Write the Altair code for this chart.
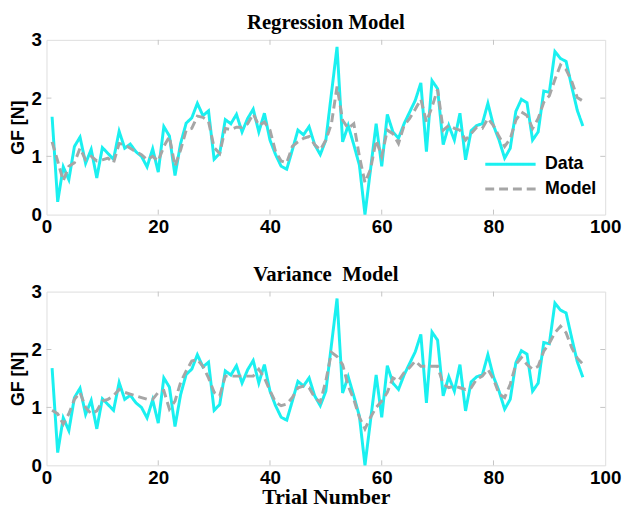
import altair as alt
import pandas as pd

# ---------------- data ----------------
trials = list(range(1, 97))

data_gf = [
    1.68, 0.22, 0.82, 0.60, 1.17, 1.33, 0.88, 1.12, 0.63, 1.15,
    1.05, 0.95, 1.43, 1.14, 1.21, 1.08, 1.00, 0.82, 1.13, 0.73,
    1.51, 1.35, 0.67, 1.22, 1.57, 1.66, 1.91, 1.70, 1.78, 0.95,
    1.05, 1.63, 1.56, 1.72, 1.42, 1.65, 1.81, 1.42, 1.74, 1.28,
    1.03, 0.83, 0.78, 1.11, 1.45, 1.37, 1.51, 1.20, 1.03, 1.28,
    2.08, 2.88, 1.25, 1.53, 1.20, 0.85, 0.00, 0.78, 1.56, 0.83,
    1.72, 1.42, 1.31, 1.56, 1.76, 1.96, 2.26, 1.08, 2.30, 2.16,
    1.20, 1.53, 1.28, 1.74, 0.94, 1.44, 1.53, 1.56, 1.91, 1.53,
    1.28, 0.97, 1.14, 1.77, 1.98, 1.92, 1.28, 1.42, 2.12, 2.10,
    2.80, 2.68, 2.63, 2.20, 1.79, 1.52,
]

regression_model = [
    1.25, 0.92, 0.58, 0.83, 0.89, 1.14, 0.94, 1.00, 0.92, 0.94,
    0.97, 0.89, 1.22, 1.20, 1.14, 1.08, 1.03, 0.94, 1.00, 0.92,
    1.17, 1.34, 0.83, 1.11, 1.45, 1.48, 1.69, 1.67, 1.60, 1.15,
    1.05, 1.48, 1.46, 1.50, 1.50, 1.56, 1.73, 1.53, 1.59, 1.45,
    1.08, 0.92, 0.89, 1.17, 1.25, 1.31, 1.34, 1.20, 1.11, 1.28,
    1.56, 2.20, 1.62, 1.48, 1.56, 1.00, 0.55, 0.78, 1.28, 1.00,
    1.45, 1.39, 1.22, 1.53, 1.65, 1.81, 1.98, 1.59, 1.85, 2.15,
    1.45, 1.53, 1.48, 1.45, 1.28, 1.39, 1.50, 1.48, 1.65, 1.53,
    1.34, 1.17, 1.30, 1.62, 1.76, 1.70, 1.48, 1.65, 1.93, 2.04,
    2.32, 2.57, 2.49, 2.29, 2.01, 1.95,
]

variance_model = [
    0.95, 0.89, 0.71, 0.89, 1.14, 1.26, 1.00, 0.89, 0.94, 1.11,
    1.14, 1.20, 1.31, 1.26, 1.23, 1.20, 1.17, 1.14, 1.14, 1.26,
    1.29, 0.97, 1.11, 1.43, 1.63, 1.80, 1.83, 1.71, 1.51, 1.26,
    1.20, 1.54, 1.54, 1.54, 1.54, 1.54, 1.54, 1.66, 1.51, 1.29,
    1.09, 1.03, 1.06, 1.17, 1.34, 1.37, 1.34, 1.17, 1.09, 1.46,
    1.95, 1.88, 1.74, 1.37, 1.14, 0.83, 0.63, 0.83, 1.00, 1.11,
    1.26, 1.51, 1.46, 1.60, 1.69, 1.80, 1.71, 1.71, 1.71, 1.71,
    1.40, 1.34, 1.37, 1.34, 1.31, 1.34, 1.49, 1.54, 1.66, 1.49,
    1.23, 1.17, 1.40, 1.74, 1.86, 1.74, 1.66, 1.71, 1.97, 2.11,
    2.29, 2.40, 2.29, 2.03, 1.85, 1.75,
]

series_names = ["Data", "Model"]
x_label_values = [0, 20, 40, 60, 80, 100]
y_label_values = [0, 1, 2, 3]
inner_x_ticks = [20, 40, 60, 80]
inner_y_ticks = [1, 2]

# ---------------- styling ----------------
W = 566
H_TOP = 177
H_BOT = 176
CYAN = "#1AF0F0"
GRAY = "#A6A6A6"
FRAME = "#C4C4C4"
SANS = "Liberation Sans"
SERIF = "Liberation Serif"

x_scale = alt.Scale(domain=[0, 100], nice=False, zero=False)
y_scale = alt.Scale(domain=[0, 3], nice=False)
color_scale = alt.Scale(domain=series_names, range=[CYAN, GRAY])
dash_scale = alt.Scale(domain=series_names, range=[[1, 0], [9, 5]])


def panel(model_values, title, h, show_legend, x_title):
    df = pd.DataFrame({
        "trial": trials + trials,
        "gf": data_gf + model_values,
        "series": [series_names[0]] * len(trials) + [series_names[1]] * len(trials),
    })
    x_axis_kwargs = dict(
        values=x_label_values, format="d", domain=False, ticks=False, grid=False,
        labelFont=SANS, labelFontSize=19, labelFontWeight="bold",
        labelColor="black", labelPadding=3, labelFlush=False,
    )
    if x_title:
        x_axis_kwargs.update(title=x_title, titleFont=SERIF, titleFontSize=22,
                             titleFontWeight="bold", titleColor="black",
                             titlePadding=0)
    else:
        x_axis_kwargs.update(title=None)
    x_enc = alt.X("trial:Q", scale=x_scale, axis=alt.Axis(**x_axis_kwargs))
    y_enc = alt.Y(
        "gf:Q", scale=y_scale,
        axis=alt.Axis(
            values=y_label_values, format="d", domain=False, ticks=False, grid=False,
            title="GF [N]", titleFont=SANS, titleFontSize=18,
            titleFontWeight="bold", titleColor="black", titlePadding=4,
            labelFont=SANS, labelFontSize=19, labelFontWeight="bold",
            labelColor="black", labelPadding=5, labelFlush=False,
        ),
    )
    if show_legend:
        leg = alt.Legend(
            title=None, orient="none", legendX=461, legendY=117,
            symbolType="M-5,0H5", symbolSize=104, symbolStrokeWidth=3,
            symbolFillColor="transparent",
            labelFont=SANS, labelFontSize=18, labelFontWeight="bold",
            labelColor="black", labelOffset=26, rowPadding=7, padding=0,
        )
        color_enc = alt.Color("series:N", scale=color_scale, legend=leg)
        dash_enc = alt.StrokeDash("series:N", scale=dash_scale, legend=leg)
    else:
        color_enc = alt.Color("series:N", scale=color_scale, legend=None)
        dash_enc = alt.StrokeDash("series:N", scale=dash_scale, legend=None)

    lines = alt.Chart(df).mark_line(strokeWidth=3).encode(
        x=x_enc, y=y_enc, color=color_enc, strokeDash=dash_enc
    )

    xt = pd.DataFrame({"trial": inner_x_ticks})
    yt = pd.DataFrame({"gf": inner_y_ticks})
    tick_style = dict(color=FRAME, strokeWidth=1)
    xb = alt.Chart(xt).mark_rule(**tick_style).encode(
        x=alt.X("trial:Q", scale=x_scale), y=alt.value(h), y2=alt.value(h - 5))
    xtop = alt.Chart(xt).mark_rule(**tick_style).encode(
        x=alt.X("trial:Q", scale=x_scale), y=alt.value(0), y2=alt.value(5))
    yl = alt.Chart(yt).mark_rule(**tick_style).encode(
        y=alt.Y("gf:Q", scale=y_scale), x=alt.value(0), x2=alt.value(5))
    yr = alt.Chart(yt).mark_rule(**tick_style).encode(
        y=alt.Y("gf:Q", scale=y_scale), x=alt.value(W - 5), x2=alt.value(W))

    return alt.layer(xb, xtop, yl, yr, lines).properties(
        width=W, height=h,
        title=alt.TitleParams(text=title, font=SERIF, fontSize=21,
                              fontWeight="bold", color="black",
                              anchor="middle", offset=-2),
    )


top = panel(regression_model, "Regression Model", H_TOP, True, None)
bottom = panel(variance_model, "Variance \u00a0Model", H_BOT, False, "Trial Number")

chart = alt.vconcat(top, bottom, spacing=26).resolve_legend(
    color="independent", strokeDash="independent"
).resolve_scale(color="independent", strokeDash="independent").properties(
    padding=0
).configure_view(stroke=FRAME, strokeWidth=1).configure(background="white")

chart.save("out.html", embed_options={"renderer": "svg", "actions": False})
